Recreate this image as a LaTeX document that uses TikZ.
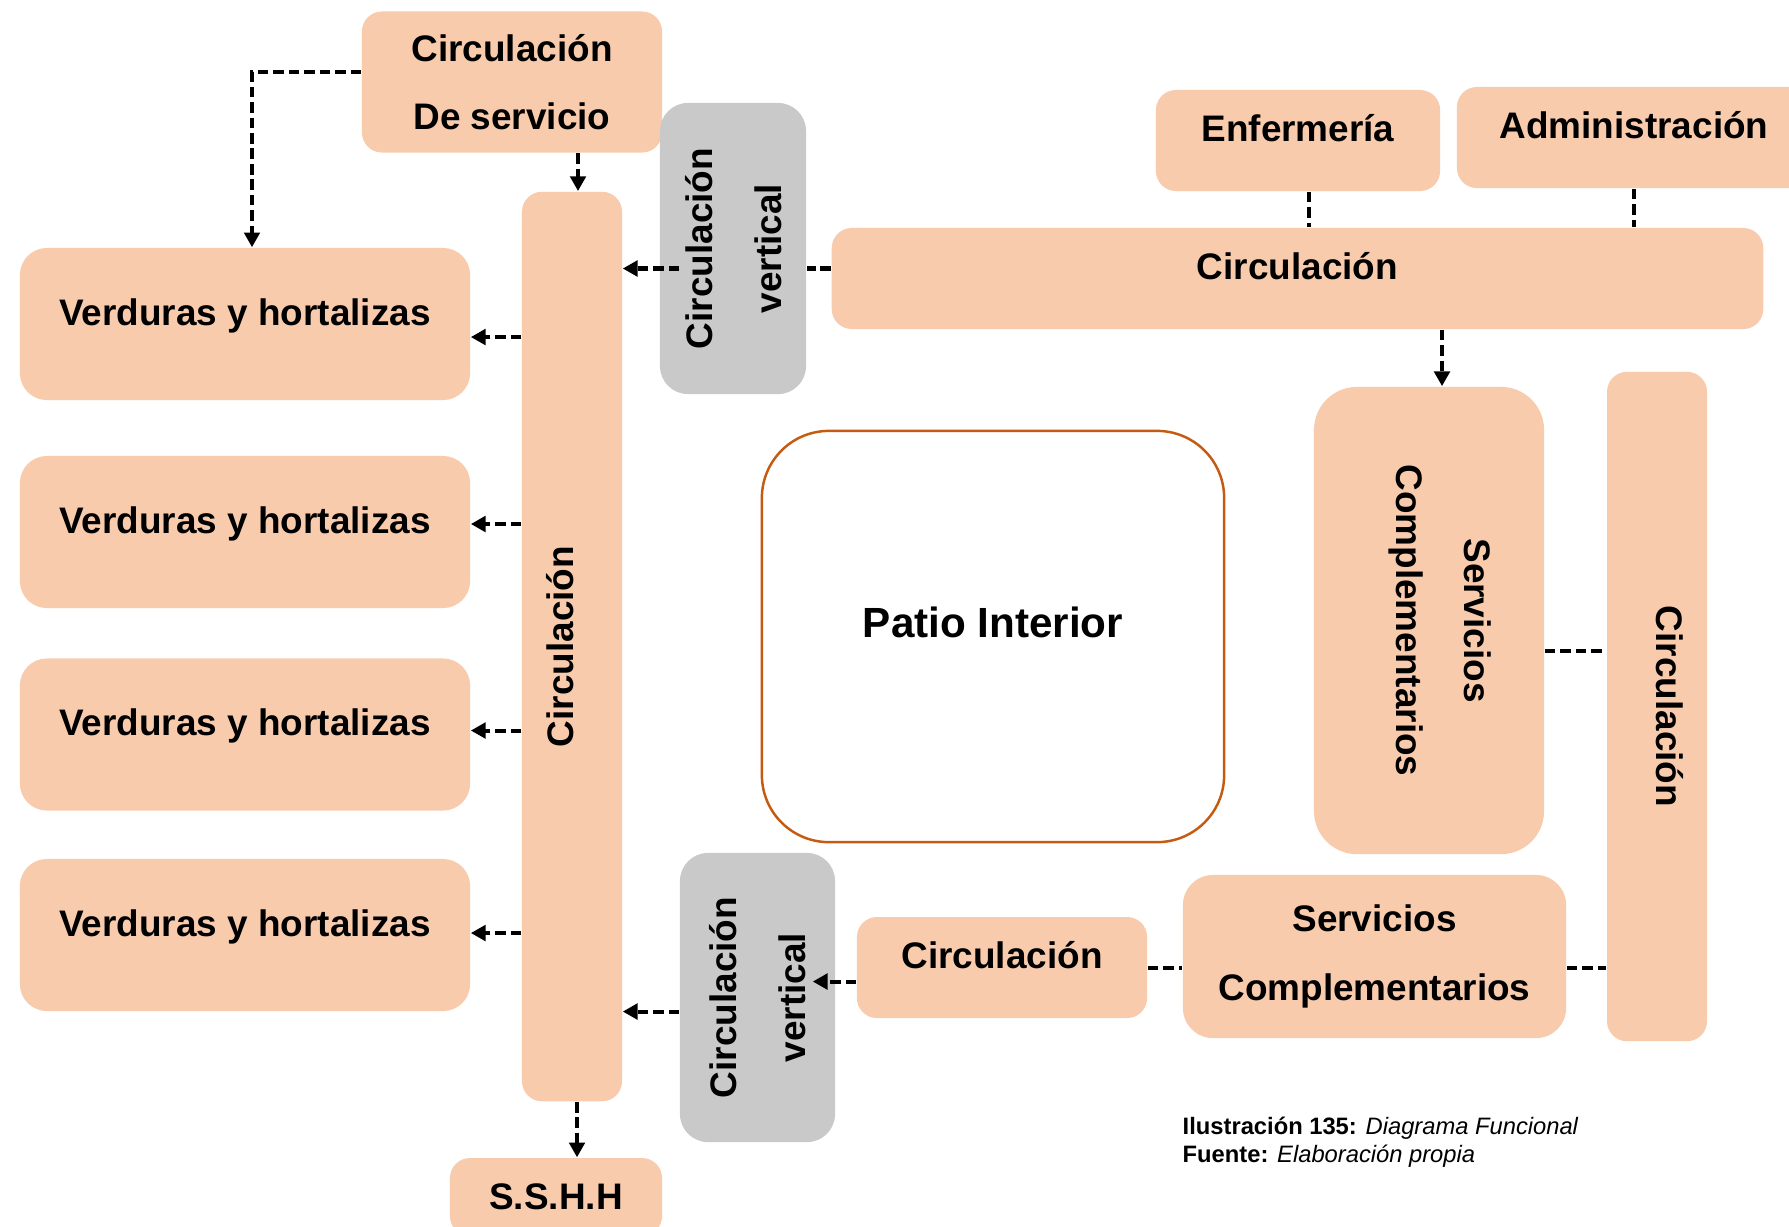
\documentclass[tikz,border=0pt]{standalone}
\usepackage{fontspec}
\setmainfont{Liberation Sans}
\usepackage{graphicx}
\usetikzlibrary{arrows.meta, positioning, calc}
\definecolor{peach}{HTML}{F8CBAD}
\definecolor{vgrey}{HTML}{C9C9C9}
\definecolor{patioline}{HTML}{C55A11}

\begin{document}
\begin{tikzpicture}[
    x=0.01cm, y=-0.01cm,
    box/.style={rectangle, fill=#1, rounded corners=2mm, align=center, inner sep=0pt,
                font=\bfseries\fontsize{10.5}{19.5}\selectfont},
    box/.default=peach,
    raised/.style={text height=2.5mm, text depth=2.3mm},
    link/.style={black, line width=1.15pt, dash pattern=on 3pt off 1.4pt},
    arrow/.style={link, -{Triangle[length=4.2pt, width=4.4pt]}},
    caption/.style={font=\fontsize{6.75}{8.1}\selectfont, align=left, inner sep=0pt}
]
\useasboundingbox (0,0) rectangle (1789,1226);

% Service circulation and the vegetable stalls
\node[box, minimum width=3cm, minimum height=1.41cm] (cds) at (512,82) {Circulación\\De servicio};
\node[box, raised, rounded corners=2.7mm, minimum width=4.5cm, minimum height=1.52cm] (v1) at (245,324) {Verduras y hortalizas};
\node[box, raised, rounded corners=2.7mm, minimum width=4.5cm, minimum height=1.52cm] (v2) at (245,532) {Verduras y hortalizas};
\node[box, raised, rounded corners=2.7mm, minimum width=4.5cm, minimum height=1.52cm] (v3) at (245,734.5) {Verduras y hortalizas};
\node[box, raised, rounded corners=2.7mm, minimum width=4.5cm, minimum height=1.52cm] (v4) at (245,935) {Verduras y hortalizas};
\node[box, minimum width=1cm, minimum height=9.09cm] (tall) at (572,646.5)
    {\rotatebox{90}{\raisebox{0pt}[2.5mm][2.3mm]{Circulación}}};
\node[box, minimum width=2.12cm, minimum height=0.78cm] (sshh) at (556,1197) {S.S.H.H};

% Vertical circulation (stairs)
\node[box=vgrey, rounded corners=2.8mm, minimum width=1.46cm, minimum height=2.91cm] (cvA) at (733,248.5)
    {\rotatebox{90}{\begin{tabular}{@{}c@{}}Circulación\\vertical\end{tabular}}};
\node[box=vgrey, rounded corners=2.8mm, minimum width=1.55cm, minimum height=2.89cm] (cvB) at (757.5,997.5)
    {\rotatebox{90}{\begin{tabular}{@{}c@{}}Circulación\\vertical\end{tabular}}};

% Upper right block
\node[box, raised, minimum width=2.84cm, minimum height=1.01cm] (enf) at (1298,140.5) {Enfermería};
\node[box, raised, minimum width=3.54cm, minimum height=1.01cm] (adm) at (1634,137.5) {Administración};
\node[box, raised, minimum width=9.31cm, minimum height=1.01cm] (circH) at (1297.5,278.5) {Circulación};

% Courtyard
\node[rectangle, draw=patioline, line width=0.7pt, rounded corners=6.7mm, minimum width=4.62cm, minimum height=4.11cm,
      text height=2.9mm, text depth=2.8mm, font=\bfseries\fontsize{12}{14}\selectfont] (patio) at (993,636.5) {Patio Interior};

% Complementary services
\node[box, rounded corners=4.3mm, minimum width=2.3cm, minimum height=4.67cm] (scV) at (1429,620.5)
    {\rotatebox{-90}{\raisebox{1.6pt}[0pt][0pt]{\begin{tabular}{@{}c@{}}Servicios\\Complementarios\end{tabular}}}};
\node[box, minimum width=1cm, minimum height=6.69cm] (circR) at (1657,706.5)
    {\rotatebox{-90}{\raisebox{0pt}[2.5mm][2.3mm]{Circulación}}};
\node[box, rounded corners=3mm, minimum width=3.83cm, minimum height=1.63cm] (scH) at (1374.5,956.5) {Servicios\\Complementarios};
\node[box, raised, minimum width=2.9cm, minimum height=1.01cm] (circS) at (1002,967.5) {Circulación};

% Caption
\node[caption, anchor=west] (cap) at (1182,1142)
    {\textbf{Ilustración 135:} \textit{Diagrama Funcional}\\\textbf{Fuente:} \textit{Elaboración propia}};

% Connectors
\draw[arrow] ([yshift=1mm]cds.west) -| ([xshift=0.7mm]v1.north);
\draw[arrow] ([xshift=0.6mm]cds.south -| tall.north) -- ([xshift=0.6mm]tall.north);
\foreach \vb/\dy in {v1/-13, v2/8, v3/4, v4/2}
    \draw[arrow] ([yshift=\dy*0.1mm]tall.west |- \vb.east) -- ([yshift=\dy*0.1mm]\vb.east);
\draw[link] ([yshift=1mm]circH.west) -- ([yshift=1mm]circH.west -| cvA.east);
\draw[arrow] ([yshift=1mm, xshift=2mm]circH.west -| cvA.west) -- ([yshift=1mm]circH.west -| tall.east);
\draw[link] ([xshift=1.1mm]enf.south) -- ([xshift=1.1mm]enf.south |- circH.north);
\draw[link] (adm.south) -- (adm.south |- circH.north);
\draw[arrow] ([xshift=1.3mm]scV.north |- circH.south) -- ([xshift=1.3mm]scV.north);
\draw[link] ([yshift=-3mm]scV.east) -- ([yshift=-3mm]scV.east -| circR.west);
\draw[link] ([yshift=-1.1mm]scH.east) -- ([yshift=-1.1mm]scH.east -| circR.west);
\draw[link] (circS.east) -- (circS.east -| scH.west);
\draw[arrow] ([yshift=-1.4mm]circS.west) -- ([yshift=-1.4mm, xshift=-2.3mm]circS.west -| cvB.east);
\draw[arrow] ([yshift=-1.4mm]cvB.west) -- ([yshift=-1.4mm]cvB.west -| tall.east);
\draw[arrow] ([xshift=0.5mm]tall.south) -- ([xshift=0.5mm]tall.south |- sshh.north);

\end{tikzpicture}
\end{document}
